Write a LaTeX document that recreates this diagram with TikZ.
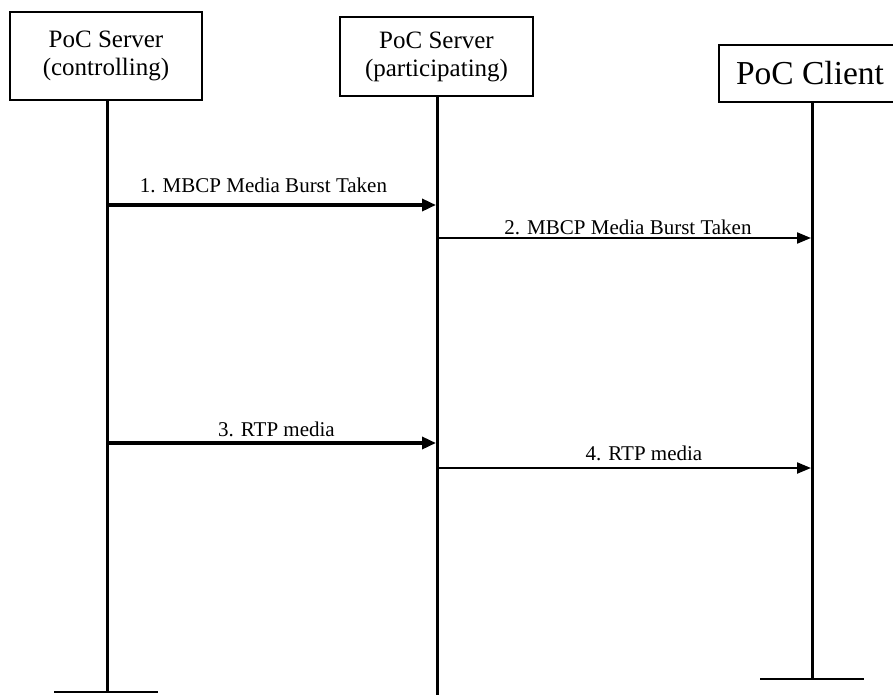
\documentclass[tikz,border=0pt]{standalone}
\usepackage{fontspec}
\setmainfont{Liberation Serif}
\usetikzlibrary{arrows.meta}

\tikzset{
  entity/.style={draw, line width=1.5pt, align=center, inner sep=0pt},
  lifeline/.style={line width=3pt},
  endbar/.style={line width=2.8pt},
  msgthick/.style={line width=3.4pt, -{Triangle[length=14pt,width=12pt]}},
  msgthin/.style={line width=2.1pt, -{Triangle[length=14pt,width=11pt]}},
  msglabel/.style={font=\fontsize{21}{24}\selectfont, inner sep=1pt}
}

\begin{document}
\begin{tikzpicture}[x=1pt, y=-1pt]
  \useasboundingbox (0,0) rectangle (893,695);

  % Entities
  \node[entity, minimum width=192pt, minimum height=88pt, font=\fontsize{25}{28}\selectfont] (ctrl) at (106,56) {PoC Server\\(controlling)};
  \node[entity, minimum width=193pt, minimum height=79pt, font=\fontsize{25}{28}\selectfont] (part) at (436.5,56.5) {PoC Server\\(participating)};
  \node[entity, minimum width=182pt, minimum height=57pt, font=\fontsize{33.5}{36}\selectfont] (client) at (810,73.5) {PoC Client};

  % Lifeline ends
  \coordinate (ctrlend) at (107,692);
  \coordinate (partend) at (437,700);
  \coordinate (clientend) at (812,679);

  % Lifelines
  \draw[lifeline] (ctrl.south -| ctrlend) -- (ctrlend);
  \draw[lifeline] (part.south -| partend) -- (partend);
  \draw[lifeline] (client.south -| clientend) -- (clientend);
  \draw[endbar] ([xshift=-53pt]ctrlend) -- ([xshift=51pt]ctrlend);
  \draw[endbar] ([xshift=-52pt]clientend) -- ([xshift=52pt]clientend);

  % Message points
  \coordinate (m1a) at (107,205);  \coordinate (m1b) at (436,205);
  \coordinate (m2a) at (437,238);  \coordinate (m2b) at (811,238);
  \coordinate (m3a) at (107,443);  \coordinate (m3b) at (436,443);
  \coordinate (m4a) at (437,468);  \coordinate (m4b) at (811,468);

  % Messages
  \draw[msgthick] (m1a) -- (m1b) node[msglabel, midway, above=10pt, xshift=-8pt] {1. MBCP Media Burst Taken};
  \draw[msgthin] (m2a) -- (m2b) node[msglabel, midway, above=1pt, xshift=4pt] {2. MBCP Media Burst Taken};
  \draw[msgthick] (m3a) -- (m3b) node[msglabel, midway, above=4pt, xshift=5pt] {3. RTP media};
  \draw[msgthin] (m4a) -- (m4b) node[msglabel, midway, above=5pt, xshift=20pt] {4. RTP media};
\end{tikzpicture}
\end{document}
